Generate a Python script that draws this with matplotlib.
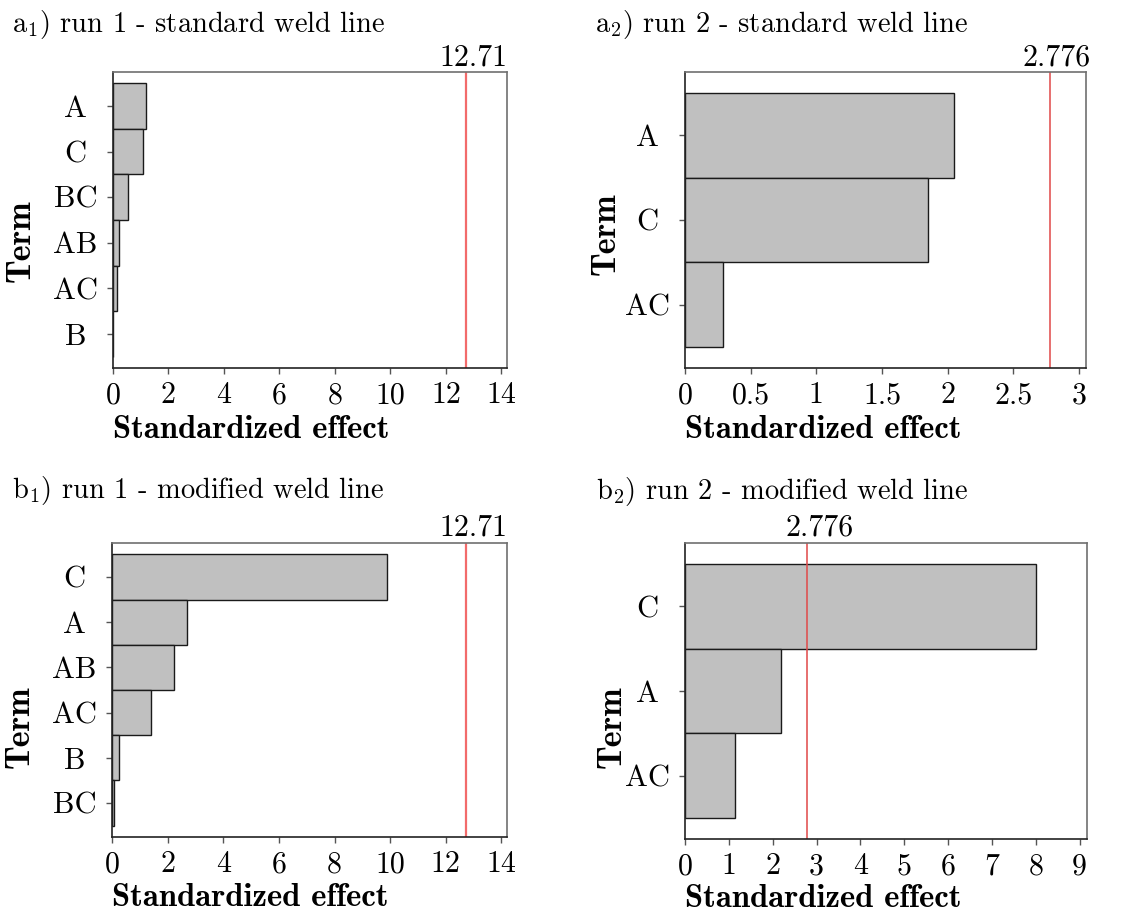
import matplotlib
matplotlib.use("Agg")
import matplotlib.pyplot as plt
from matplotlib.transforms import offset_copy

plt.rcParams['font.family'] = ['cmr10', 'DejaVu Serif']
plt.rcParams['mathtext.fontset'] = 'cm'
plt.rcParams['axes.formatter.use_mathtext'] = True

# Data
terms_a1 = ["A", "C", "BC", "AB", "AC", "B"]
effects_a1 = [1.18, 1.08, 0.53, 0.22, 0.14, 0.01]
terms_a2 = ["A", "C", "AC"]
effects_a2 = [2.05, 1.85, 0.287]
terms_b1 = ["C", "A", "AB", "AC", "B", "BC"]
effects_b1 = [9.88, 2.70, 2.23, 1.39, 0.26, 0.07]
terms_b2 = ["C", "A", "AC"]
effects_b2 = [8.0, 2.19, 1.13]

thresh_run1 = 12.71
thresh_run2 = 2.776
thresh_labels = ["12.71", "2.776"]

titles = [r"a$_1$) run 1 - standard weld line",
          r"a$_2$) run 2 - standard weld line",
          r"b$_1$) run 1 - modified weld line",
          r"b$_2$) run 2 - modified weld line"]

xmax = [14.2, 3.053, 14.2, 9.17]
xticks = [[0, 2, 4, 6, 8, 10, 12, 14],
          [0, 0.5, 1, 1.5, 2, 2.5, 3],
          [0, 2, 4, 6, 8, 10, 12, 14],
          [0, 1, 2, 3, 4, 5, 6, 7, 8, 9]]
xticklabels = [["0", "2", "4", "6", "8", "10", "12", "14"],
               ["0", "0.5", "1", "1.5", "2", "2.5", "3"],
               ["0", "2", "4", "6", "8", "10", "12", "14"],
               ["0", "1", "2", "3", "4", "5", "6", "7", "8", "9"]]

W, H = 1139, 914
fig = plt.figure(figsize=(W / 100, H / 100), dpi=100)

rects = [(113, 72, 507, 368), (685, 72, 1086, 368),
         (112, 543, 507, 837), (685, 543, 1087, 839)]
title_pos = [(12, 32), (595, 32), (12, 498), (596, 499)]
ylabel_xy = [(-0.233, 0.43), (-0.197, 0.455), (-0.233, 0.375), (-0.182, 0.378)]
xlabel_y = [-0.16, -0.16, -0.158, -0.152]
label_dx = [8, 7, 8, 13]

panels = [(terms_a1, effects_a1, thresh_run1, thresh_labels[0]),
          (terms_a2, effects_a2, thresh_run2, thresh_labels[1]),
          (terms_b1, effects_b1, thresh_run1, thresh_labels[0]),
          (terms_b2, effects_b2, thresh_run2, thresh_labels[1])]

red_colors = ['#f26b6b', '#e04848', '#f26b6b', '#e04848']
red_lw = [1.6, 1.1, 1.6, 1.1]

for i, ((terms, vals, thr, thrlab), (l, t, r, b)) in enumerate(zip(panels, rects)):
    ax = fig.add_axes([l / W, 1 - b / H, (r - l) / W, (b - t) / H])
    n = len(terms)
    pos = list(range(n))
    ax.barh(pos, vals, height=1.0, color='#c0c0c0', edgecolor='#1a1a1a', linewidth=1.0)
    ax.set_ylim(n - 0.25, -0.75)
    ax.set_xlim(0, xmax[i])
    ax.set_yticks(pos)
    ax.set_yticklabels(terms, fontsize=22, ha='center')
    ax.set_xticks(xticks[i])
    ax.set_xticklabels(xticklabels[i], fontsize=21.5)
    ax.axvline(thr, color=red_colors[i], lw=red_lw[i])
    trans = offset_copy(ax.get_xaxis_transform(), fig=fig, x=label_dx[i], y=7, units='dots')
    ax.text(thr, 1.0, thrlab, transform=trans, ha='center', va='baseline', fontsize=21.5)
    ax.tick_params(axis='both', direction='out', length=4, width=1, color='#555555')
    ax.tick_params(axis='x', pad=6)
    ax.tick_params(axis='y', pad=23)
    for s in ['left', 'bottom']:
        ax.spines[s].set_color('#222222')
        ax.spines[s].set_linewidth(1.2)
    for s in ['top', 'right']:
        ax.spines[s].set_color('#707070')
        ax.spines[s].set_linewidth(1.2)
    ax.set_xlabel("Standardized effect", fontsize=23.5, family=['cmb10', 'DejaVu Serif'],
                  ha='left', va='top')
    ax.xaxis.set_label_coords(0.0, xlabel_y[i])
    ax.set_ylabel("Term", fontsize=24.5, family=['cmb10', 'DejaVu Serif'],
                  ha='center', va='center')
    ax.yaxis.set_label_coords(*ylabel_xy[i])
    tx, ty = title_pos[i]
    fig.text(tx / W, 1 - ty / H, titles[i], fontsize=20.5, ha='left', va='baseline')

fig.savefig("out.png", dpi=100)
